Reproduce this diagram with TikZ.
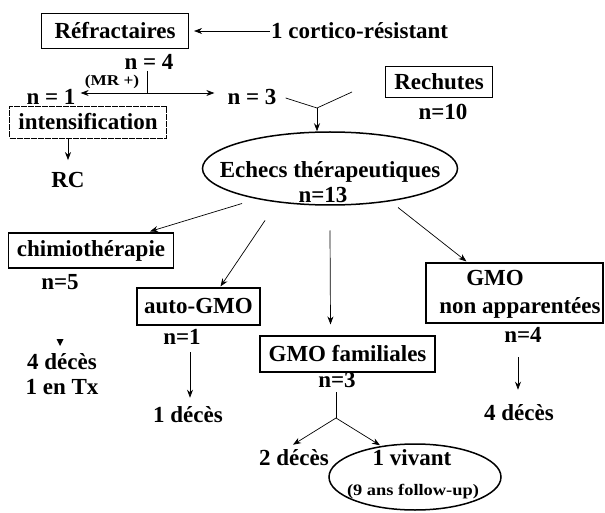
\documentclass[tikz,border=0pt]{standalone}
\usepackage{fontspec}
\setmainfont{Liberation Serif}
\newfontfamily\smallf[FakeStretch=1.15]{Liberation Serif}
\usetikzlibrary{arrows.meta,shapes.geometric,calc}
\begin{document}
\begin{tikzpicture}[x=1pt,y=-1pt,
  txt/.style={font=\bfseries\fontsize{23}{27}\selectfont, inner sep=1pt},
  sm/.style={font=\smallf\bfseries\fontsize{16}{19}\selectfont, inner sep=1pt},
  boxx/.style={draw, line width=1.1pt, inner sep=0pt, font=\bfseries\fontsize{23}{27}\selectfont},
  ell/.style={draw, ellipse, line width=1.5pt, inner sep=0pt},
  arr/.style={-{Stealth[length=8pt,width=6pt]}, line width=0.7pt},
  ln/.style={line width=0.7pt}]
\useasboundingbox (0,0) rectangle (605,513);
\fill[white] (0,0) rectangle (605,513);

% top part
\node[boxx, minimum width=147pt, minimum height=35pt] (refr) at (115,31) {Réfractaires};
\node[txt, anchor=west] (cort) at (270,31) {1 cortico-résistant};
\draw[arr] (cort.west) -- ([xshift=5pt]refr.east);
\node[txt] (n4) at (149,62) {n = 4};
\coordinate (j1) at (147,93);
\draw[ln] (n4.south -| j1) -- (j1);
\node[sm, font=\smallf\bfseries\fontsize{15}{17}\selectfont] (mr) at (112,82) {(MR +)};
\node[txt] (n1) at (51,97) {n = 1};
\node[txt] (n3) at (252,97) {n = 3};
\draw[ln, {Stealth[length=8pt,width=6pt]}-{Stealth[length=8pt,width=6pt]}] ([xshift=4pt]n1.east |- j1) -- ([xshift=-12pt]n3.west |- j1);
\node[boxx, line width=0.7pt, dash pattern=on 6pt off 1pt, minimum width=157pt, minimum height=32pt] (int) at (88,122) {intensification};
\node[txt] (rc) at (68,180) {RC};
\draw[arr] (int.south -| rc) -- ([yshift=11pt]rc.north);

\node[boxx, minimum width=107pt, minimum height=31pt] (rech) at (439,82) {Rechutes};
\node[txt] (n10) at (443,112) {n=10};

% central ellipse
\node[ell, minimum width=255pt, minimum height=73pt] (ech) at (330,168.5) {};
\node[txt] (ech1) at (330,172) {Echecs thérapeutiques};
\node[txt] (ech2) at (323,195) {n=13};
\coordinate (y1) at (317,108);
\coordinate (y2) at (352,92);
\draw[ln] ([xshift=8pt,yshift=-1pt]n3.east) -- (y1) -- (y2);
\draw[arr] (y1) -- (y1 |- ech.north);

% branches
\node[boxx, minimum width=165pt, minimum height=35pt] (chim) at (91,250.5) {chimiothérapie};
\node[txt] (n5) at (60,282) {n=5};
\draw[arr] ($(ech.center)+(-88,35)$) -- ($(chim.north west)+(142,-1)$);

\node[boxx, minimum width=123pt, minimum height=37pt] (auto) at (198.5,306.5) {auto-GMO};
\node[txt] (n1b) at (182,337) {n=1};
\draw[arr] ($(ech.center)+(-65,52)$) -- ($(auto.north)+(22,-1)$);
\coordinate (a1) at (190,352);
\node[txt] (d1) at (188,415) {1 décès};
\draw[arr] (a1) -- ([yshift=8pt]d1.north -| a1);

\fill (56.5,339) -- (63.5,339) -- (60,346) -- cycle;
\node[txt, inner sep=0pt] (d4a) at (62,362) {4 décès};
\node[txt, inner sep=0pt] (tx) at (62,387) {1 en Tx};

\node[boxx, minimum width=175pt, minimum height=36pt] (fam) at (347.5,354) {GMO familiales};
\node[txt] (n3b) at (337,380) {n=3};
\draw[arr] ($(ech.center)+(0,62)$) -- ($(fam.north)+(-17,-11)$);
\coordinate (f0) at (336,392);
\coordinate (fj) at (336,418);
\draw[ln] (f0) -- (fj);
\node[txt] (d2) at (294,458) {2 décès};
\node[ell, minimum width=172pt, minimum height=66pt] (viv) at (415,477) {};
\node[txt] (viv1) at (412,458) {1 vivant};
\node[sm] (viv2) at (413,492) {(9 ans follow-up)};
\draw[arr] (fj) -- ($(d2.north)+(-1,-4)$);
\draw[arr] (fj) -- ($(viv.north)+(-35,2)$);

\node[boxx, minimum width=177pt, minimum height=60pt] (nonap) at (514.5,293) {};
\node[txt] (g1) at (495,278) {GMO};
\node[txt] (g2) at (520,308) {non apparentées};
\node[txt] (n4b) at (523,335) {n=4};
\draw[arr] ($(ech.center)+(68,39)$) -- ($(nonap.north west)+(41,-1)$);
\coordinate (b1) at (518,357);
\node[txt] (d4b) at (519,413) {4 décès};
\draw[arr] (b1) -- ([yshift=14pt]d4b.north -| b1);
\end{tikzpicture}
\end{document}
